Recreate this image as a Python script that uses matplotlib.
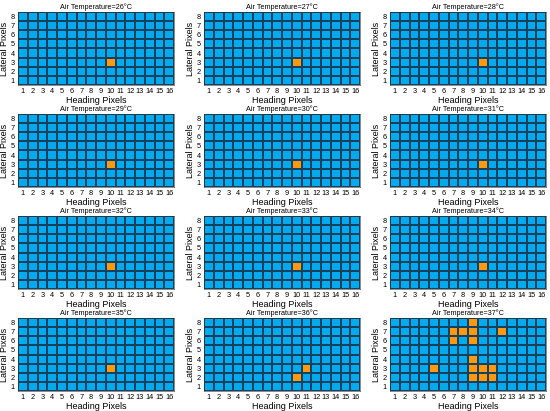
import numpy as np
import matplotlib.pyplot as plt
from matplotlib.colors import ListedColormap

plt.rcParams['font.family'] = ['Liberation Sans', 'DejaVu Sans']

temps = [26, 27, 28, 29, 30, 31, 32, 33, 34, 35, 36, 37]
n_heading = 16
n_lateral = 8

# (heading, lateral) pixels flagged hot in each panel
hot_cells = {
    26: [(10, 3)], 27: [(10, 3)], 28: [(10, 3)], 29: [(10, 3)],
    30: [(10, 3)], 31: [(10, 3)], 32: [(10, 3)], 33: [(10, 3)],
    34: [(10, 3)], 35: [(10, 3)],
    36: [(10, 2), (11, 3)],
    37: [(9, 8), (7, 7), (8, 7), (9, 7), (12, 7), (7, 6), (9, 6), (9, 4),
         (5, 3), (9, 3), (10, 3), (11, 3), (9, 2), (10, 2), (11, 2)],
}

cmap = ListedColormap(['#00AAEE', '#FF9910'])

fig = plt.figure(figsize=(5.5, 4.11), dpi=100)

W, H = 550, 411
lefts = [18, 204, 390]
tops = [12, 114, 216, 318]
aw, ah = 156, 73

xe = np.arange(0.5, n_heading + 1)
ye = np.arange(0.5, n_lateral + 1)

for i, t in enumerate(temps):
    r, c = divmod(i, 3)
    ax = fig.add_axes([lefts[c] / W, 1 - (tops[r] + ah) / H, aw / W, ah / H])
    z = np.zeros((n_lateral, n_heading))
    for hx, ly in hot_cells[t]:
        z[ly - 1, hx - 1] = 1
    ax.pcolormesh(xe, ye, z, cmap=cmap, vmin=0, vmax=1,
                  edgecolors='#17405e', linewidth=0.35)
    ax.set_xlim(0.5, n_heading + 0.5)
    ax.set_ylim(0.5, n_lateral + 0.5)
    ax.set_xticks(range(1, n_heading + 1))
    ax.set_yticks(range(1, n_lateral + 1))
    ax.tick_params(length=0, labelsize=5.3, pad=2.5)
    for s in ax.spines.values():
        s.set_linewidth(0.4)
        s.set_color('#333333')
    ax.set_title('Air Temperature=%d\u00b0C' % t, fontsize=5.2, pad=2.5)
    ax.set_xlabel('Heading Pixels', fontsize=6.5, labelpad=0.5)
    ax.set_ylabel('Lateral Pixels', fontsize=6.5, labelpad=1)

fig.savefig('out.png', dpi=100)
